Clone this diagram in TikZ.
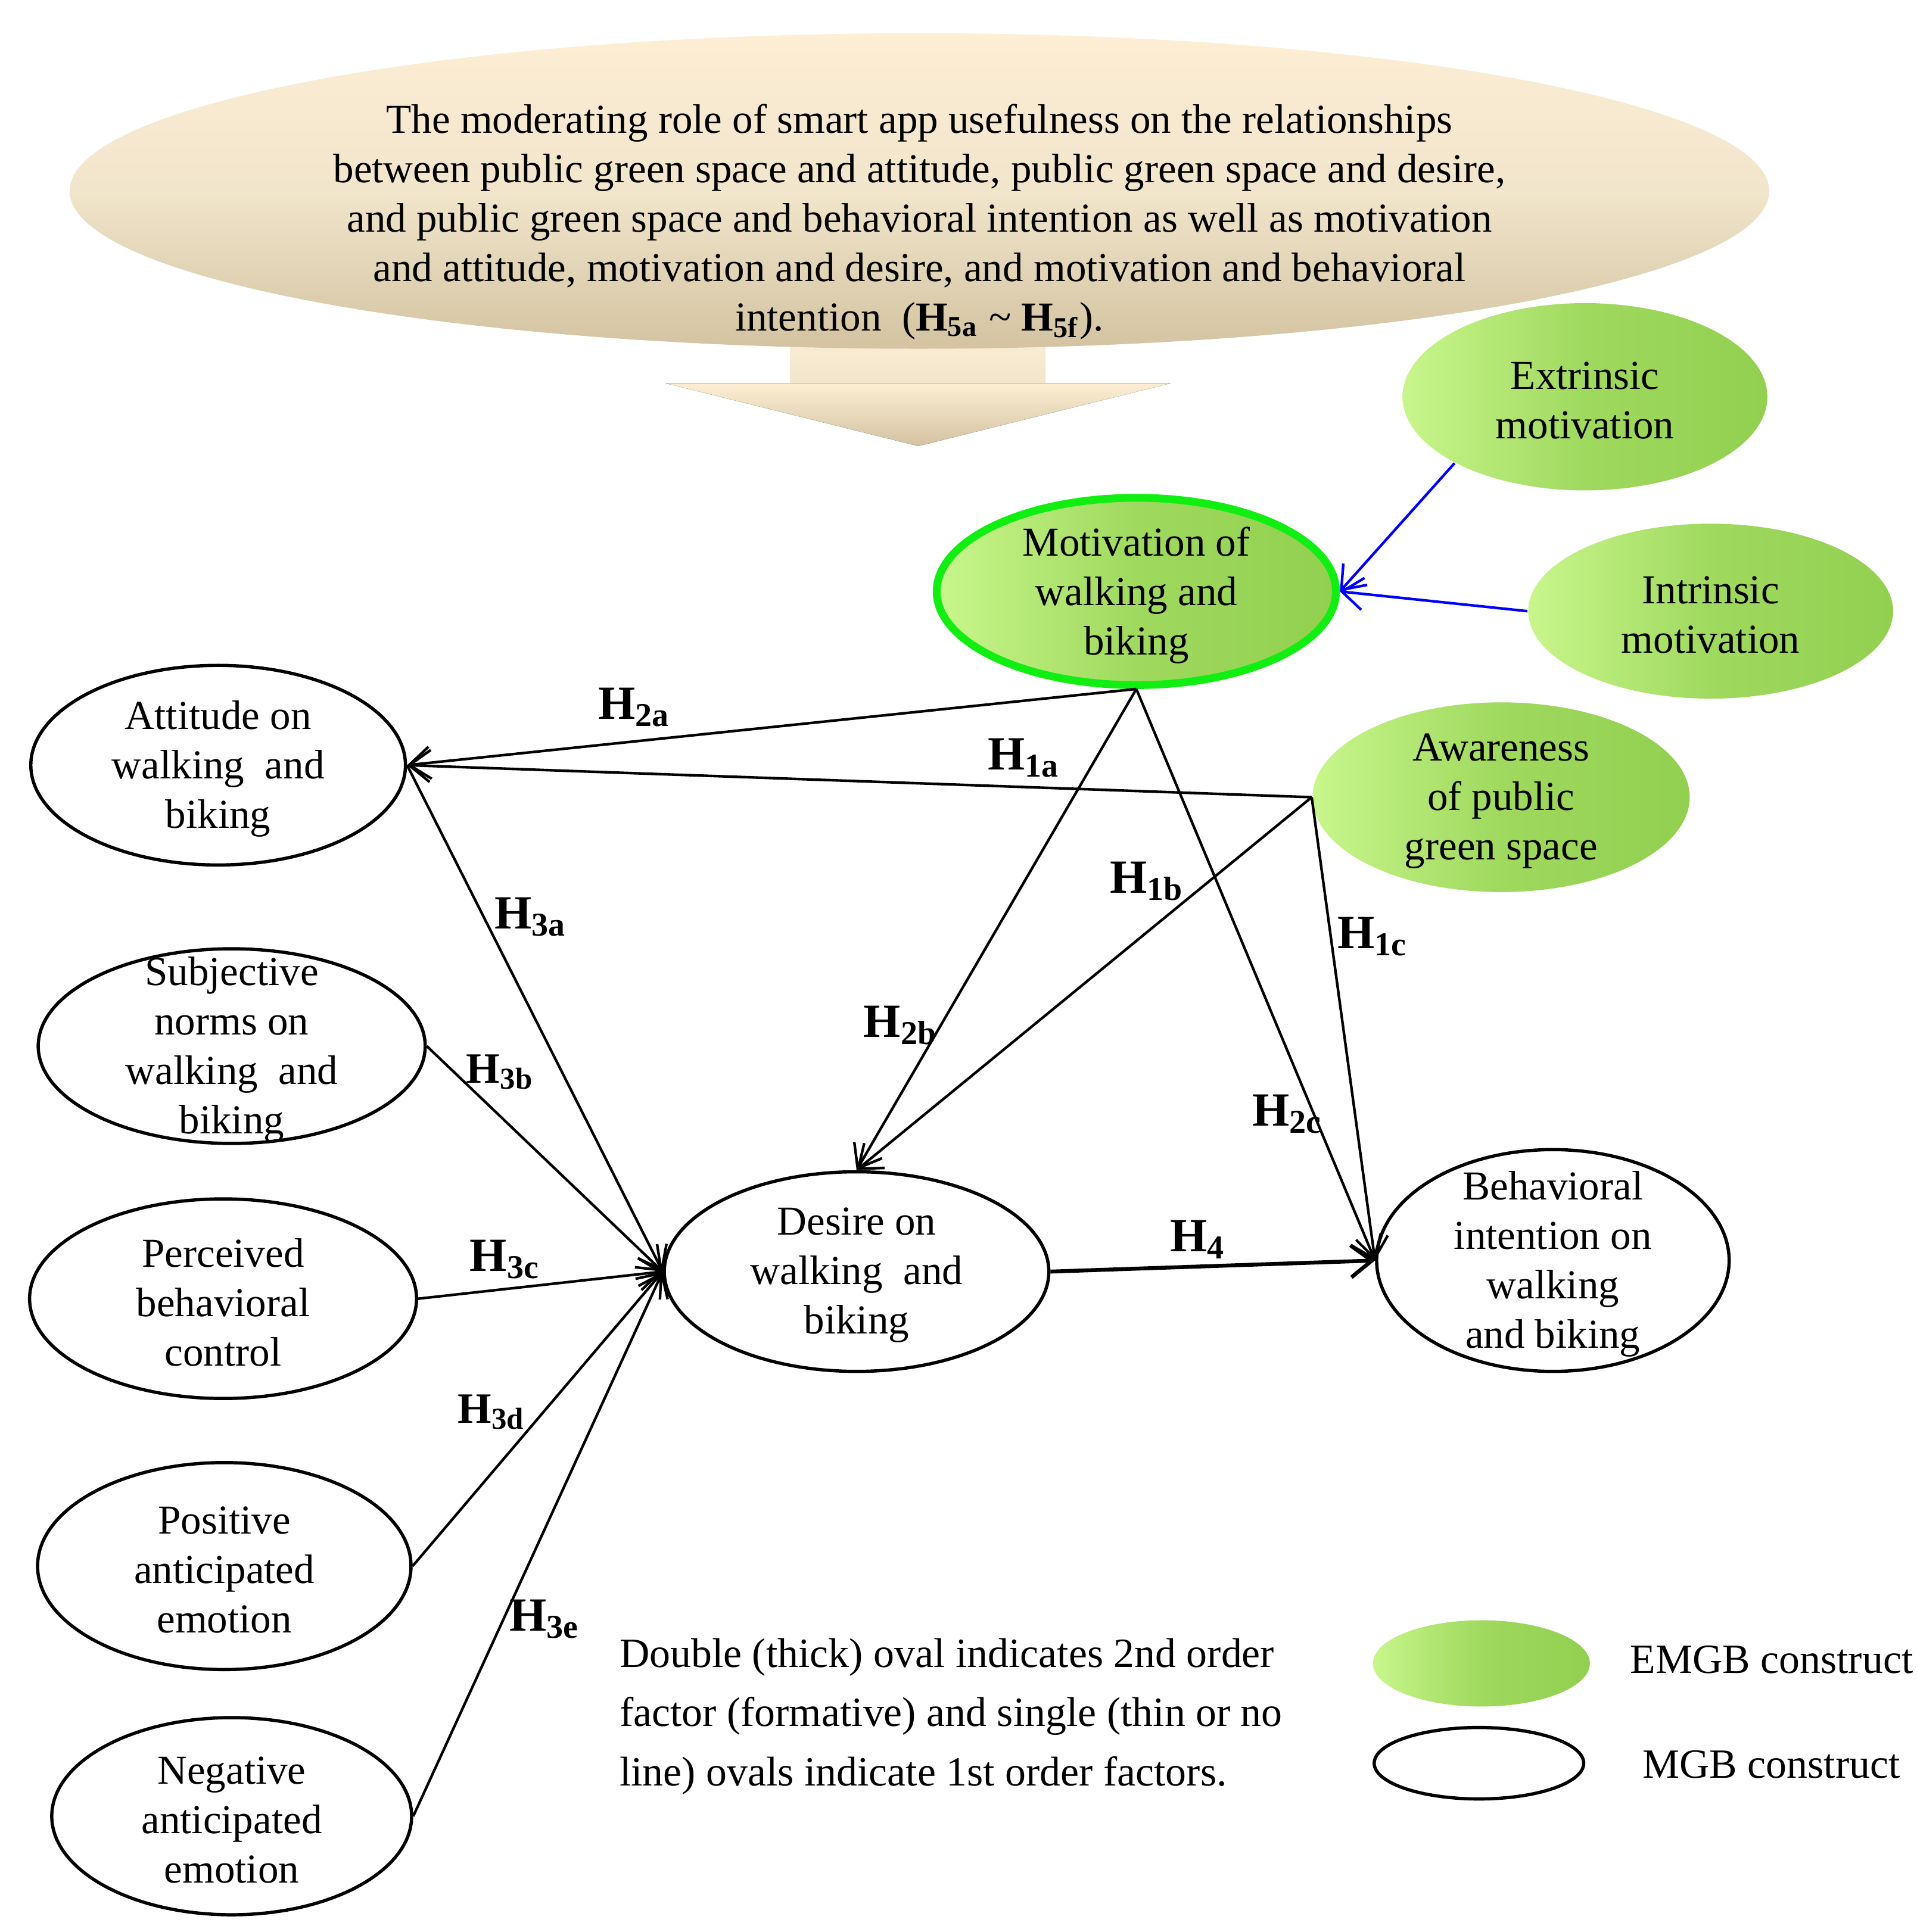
\documentclass[tikz,border=0pt]{standalone}
\usepackage{fontspec}
\setmainfont{Liberation Serif}
\usetikzlibrary{shapes.geometric,arrows.meta}
\definecolor{gLight}{HTML}{C8F68C}
\definecolor{gDark}{HTML}{92D050}
\definecolor{gMid}{HTML}{9FD95E}
\definecolor{cream}{HTML}{FDEED4}
\definecolor{creamMid}{HTML}{F1E5CB}
\definecolor{tanc}{HTML}{D3C3A1}
\definecolor{brightgreen}{HTML}{11EE11}
\newcommand\Hlab[1]{\textbf{H\textsubscript{#1}}}
\begin{document}
\begin{tikzpicture}[x=0.1mm,y=-0.1mm,
  oval/.style={ellipse, draw=black, line width=0.75pt, inner sep=0pt, fill=white},
  goval/.style={ellipse, inner sep=0pt, left color=gLight, right color=gDark, middle color=gMid},
  txt/.style={align=center, inner sep=0pt, yshift=-0.85pt, font=\fontsize{9.5}{11.4}\selectfont},
  hl/.style={inner sep=0pt, font=\fontsize{11}{12}\selectfont},
  hls/.style={inner sep=0pt, font=\fontsize{10}{11}\selectfont},
  conn/.style={line width=0.6pt, -{Straight Barb[length=1.7mm,width=2.6mm]}}]
\useasboundingbox (0,0) rectangle (1555,1568);
\fill[white] (0,0) rectangle (1555,1568);

% moderating arrow
\fill[top color=cream, bottom color=creamMid] (641,270) rectangle (848,311);
\fill[top color=cream, bottom color=tanc] (540,311) -- (950,311) -- (745,362) -- cycle;
\node[ellipse, inner sep=0pt, minimum width=137.9mm, minimum height=25.6mm,
  top color=cream, bottom color=tanc, middle color=creamMid] (mod) at (746,155) {};
\node[txt] (modtxt) at (746,177) {The moderating role of smart app usefulness on the relationships\\
between public green space and attitude, public green space and desire,\\
and public green space and behavioral intention as well as motivation\\
and attitude, motivation and desire, and motivation and behavioral\\
intention\ \ (\Hlab{5a} \textasciitilde\ \Hlab{5f}).};

% EMGB constructs
\node[goval, minimum width=29.6mm, minimum height=15.2mm,
  label={[txt]center:{Extrinsic\\motivation}}] (ext) at (1286,322) {};
\node[goval, minimum width=29.6mm, minimum height=14.2mm,
  label={[txt]center:{Intrinsic\\motivation}}] (int) at (1388,496) {};
\node[goval, draw=brightgreen, line width=1.8pt, minimum width=32.4mm, minimum height=15.2mm,
  label={[txt]center:{Motivation of\\walking and\\biking}}] (mot) at (922,480) {};
\node[goval, minimum width=30.6mm, minimum height=15.4mm,
  label={[txt]center:{Awareness\\of public\\green space}}] (aw) at (1218,647) {};

% MGB constructs
\node[oval, minimum width=30.4mm, minimum height=16.2mm,
  label={[txt]center:{Attitude on\\walking\ \ and\\biking}}] (att) at (177,621) {};
\node[oval, minimum width=31.4mm, minimum height=15.8mm,
  label={[txt]center:{Subjective\\norms on\\walking\ \ and\\biking}}] (sub) at (188,849) {};
\node[oval, minimum width=31.4mm, minimum height=16.2mm,
  label={[txt]center:{Perceived\\behavioral\\control}}] (pbc) at (181,1054) {};
\node[oval, minimum width=30.3mm, minimum height=16.8mm,
  label={[txt]center:{Positive\\anticipated\\emotion}}] (pos) at (182,1271) {};
\node[oval, minimum width=29.2mm, minimum height=16mm,
  label={[txt]center:{Negative\\anticipated\\emotion}}] (neg) at (188,1474) {};
\node[oval, minimum width=31.2mm, minimum height=16.2mm,
  label={[txt]center:{Desire on\\walking\ \ and\\biking}}] (des) at (695,1032) {};
\node[oval, minimum width=28.6mm, minimum height=18mm,
  label={[txt]center:{Behavioral\\intention on\\walking\\and biking}}] (beh) at (1260,1023) {};

% connectors
\draw[conn, blue] (ext.207) -- (mot.east);
\draw[conn, blue] (int.west) -- (mot.east);
\draw[conn] (mot.south) -- (att.east);
\draw[conn] (aw.west) -- (att.east);
\draw[conn] (mot.south) -- (des.north);
\draw[conn] (aw.west) -- (des.north);
\draw[conn] (mot.south) -- (beh.west);
\draw[conn] (aw.west) -- (beh.west);
\draw[conn] (att.east) -- (des.west);
\draw[conn] (sub.east) -- (des.west);
\draw[conn] (pbc.east) -- (des.west);
\draw[conn] (pos.east) -- (des.west);
\draw[conn] (neg.east) -- (des.west);
\draw[conn, line width=0.9pt] (des.east) -- (beh.west);

% labels
\node[hl] (l2a) at (515,574) {\Hlab{2a}};
\node[hl] (l1a) at (831,615) {\Hlab{1a}};
\node[hl] (l1b) at (931,715) {\Hlab{1b}};
\node[hl] (l1c) at (1114,760) {\Hlab{1c}};
\node[hl] (l2b) at (731,832) {\Hlab{2b}};
\node[hl] (l2c) at (1045,904) {\Hlab{2c}};
\node[hl] (l3a) at (431,744) {\Hlab{3a}};
\node[hls] (l3b) at (406,870) {\Hlab{3b}};
\node[hl] (l3c) at (410,1022) {\Hlab{3c}};
\node[hls] (l3d) at (399,1146) {\Hlab{3d}};
\node[hl] (l3e) at (442,1314) {\Hlab{3e}};
\node[hl] (l4) at (972,1006) {\Hlab{4}};

% legend
\node[align=left, inner sep=0pt, anchor=west, font=\fontsize{9.6}{13.7}\selectfont] (note) at (502,1393)
  {Double (thick) oval indicates 2nd order\\factor (formative) and single (thin or no\\line) ovals indicate 1st order factors.};
\node[goval, minimum width=17.6mm, minimum height=7mm] (lgg) at (1202,1350) {};
\node[oval, minimum width=17mm, minimum height=5.8mm] (lgw) at (1200,1431) {};
\node[anchor=west, inner sep=0pt, font=\fontsize{9.6}{11}\selectfont] (lggt) at (1322,1347) {EMGB construct};
\node[anchor=west, inner sep=0pt, font=\fontsize{9.6}{11}\selectfont] (lgwt) at (1332,1432) {MGB construct};
\end{tikzpicture}
\end{document}
